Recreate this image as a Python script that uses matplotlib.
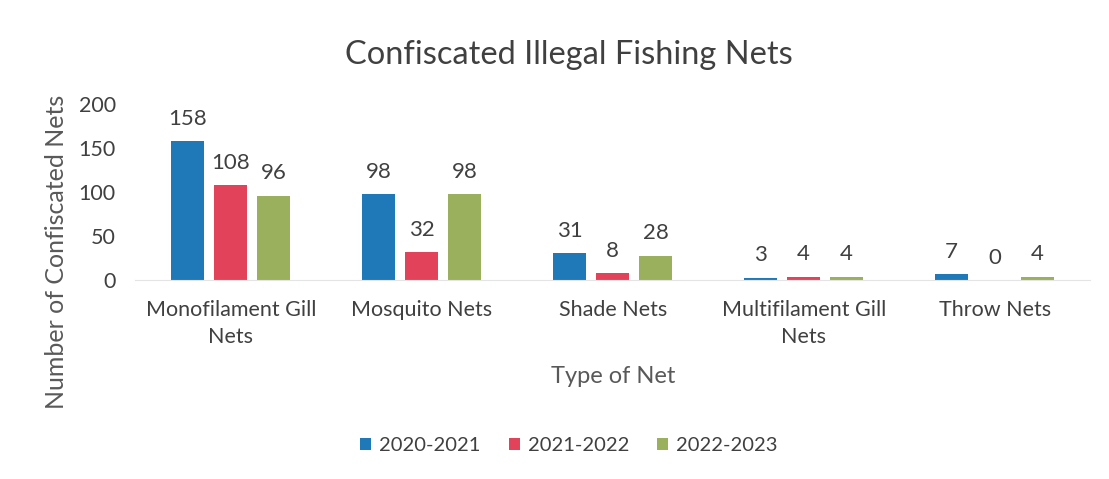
import numpy as np
import matplotlib.pyplot as plt

categories = ["Monofilament Gill\nNets", "Mosquito Nets", "Shade Nets",
              "Multifilament Gill\nNets", "Throw Nets"]
seasons = ["2020-2021", "2021-2022", "2022-2023"]
nets_2020 = [158, 98, 31, 3, 7]
nets_2021 = [108, 32, 8, 4, 0]
nets_2022 = [96, 98, 28, 4, 4]
colors = ["#1f78b8", "#e2435a", "#9bb05c"]

plt.rcParams['font.family'] = ['Lato', 'DejaVu Sans']
txt = "#404040"

fig = plt.figure(figsize=(11.09, 4.79), dpi=100)
ax = fig.add_axes([0.122, 0.415, 0.861, 0.368])

x = np.arange(len(categories))
w = 0.173
step = 0.225
for k, (vals, lab, c) in enumerate(zip([nets_2020, nets_2021, nets_2022], seasons, colors)):
    pos = x + (k - 1) * step
    ax.bar(pos, vals, width=w, color=c, label=lab)
    for xb, v in zip(pos, vals):
        ax.text(xb, v + 14, str(v), ha="center", va="bottom", fontsize=16, color=txt)

ax.set_xlim(-0.5, len(categories) - 0.5)
ax.set_ylim(0, 200)
ax.set_yticks([0, 50, 100, 150, 200])
ax.set_xticks(x)
ax.set_xticklabels(categories, fontsize=15.5, color=txt, linespacing=1.45)
ax.tick_params(axis="y", labelsize=15.5, labelcolor=txt, length=0, pad=14)
ax.tick_params(axis="x", length=0, pad=14)
for s in ["top", "right", "left"]:
    ax.spines[s].set_visible(False)
ax.spines["bottom"].set_color("#e4e4e4")

ax.set_ylabel("Number of Confiscated Nets", fontsize=18, color="#595959")
ax.yaxis.set_label_coords(-0.071, 0.16)
ax.set_xlabel("Type of Net", fontsize=17, color="#595959", labelpad=14)
fig.suptitle("Confiscated Illegal Fishing Nets", x=0.513, y=0.885, va="center",
             fontsize=23.5, color=txt)

fig.legend(loc="center", bbox_to_anchor=(0.513, 0.069), ncol=3, frameon=False,
           fontsize=14.5, handlelength=0.55, handleheight=0.55, handletextpad=0.4,
           columnspacing=1.4, labelcolor=txt)

fig.savefig("out.png", dpi=100)
